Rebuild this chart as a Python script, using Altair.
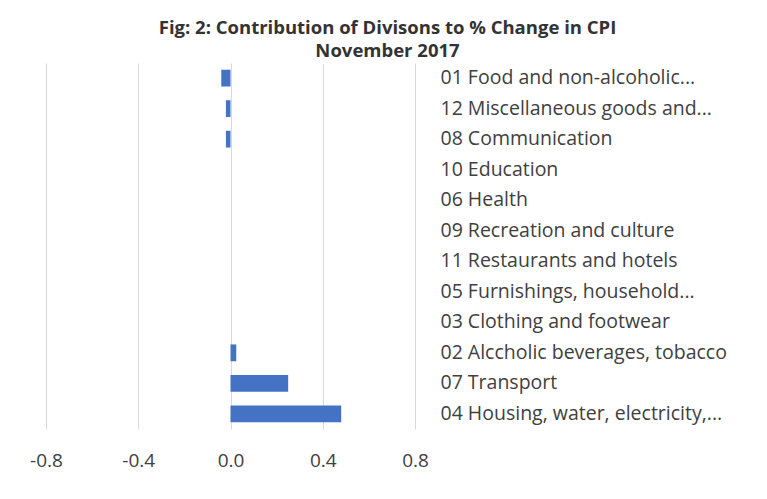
import altair as alt
import pandas as pd

categories = [
    "01 Food and non-alcoholic...",
    "12 Miscellaneous goods and...",
    "08 Communication",
    "10 Education",
    "06 Health",
    "09 Recreation and culture",
    "11 Restaurants and hotels",
    "05 Furnishings, household...",
    "03 Clothing and footwear",
    "02 Alccholic beverages, tobacco",
    "07 Transport",
    "04 Housing, water, electricity,...",
]
values = [-0.04, -0.02, -0.02, 0.0, 0.0, 0.0, 0.0, 0.0, 0.0, 0.025, 0.25, 0.48]
x_ticks = [-0.8, -0.4, 0.0, 0.4, 0.8]

df = pd.DataFrame({"division": categories, "contribution": values})

FONT = "Open Sans"

chart = (
    alt.Chart(df)
    .mark_bar(color="#4472C4")
    .encode(
        x=alt.X(
            "contribution:Q",
            scale=alt.Scale(domain=[-0.8, 0.8], nice=False),
            axis=alt.Axis(
                values=x_ticks,
                labelExpr="datum.value < 0 ? '-' + format(abs(datum.value), '.1f') : format(datum.value, '.1f')",
                title=None,
                domain=False,
                ticks=False,
                labelPadding=22,
                labelFontSize=19,
                labelColor="#404040",
                labelFont=FONT,
                gridColor="#d9d9d9",
                labelFlush=False,
            ),
        ),
        y=alt.Y(
            "division:N",
            sort=categories,
            scale=alt.Scale(paddingInner=0.45, paddingOuter=0.22),
            axis=alt.Axis(
                orient="right",
                title=None,
                domain=False,
                ticks=False,
                grid=False,
                labelPadding=25,
                labelFontSize=19.5,
                labelColor="#404040",
                labelFont=FONT,
                labelLimit=0,
            ),
        ),
    )
    .properties(
        width=369,
        height=366,
        padding={"left": 38, "top": 55, "right": 344, "bottom": 62},
        autosize=alt.AutoSizeParams(type="none"),
        title=alt.TitleParams(
            text=["Fig: 2: Contribution of Divisons to % Change in CPI", "November 2017"],
            anchor="middle",
            frame="group",
            dx=157,
            font=FONT,
            fontSize=18.5,
            fontWeight="bold",
            color="#333333",
            lineHeight=23,
            offset=3,
        ),
    )
    .configure_view(stroke=None)
)

chart.save("out.html", embed_options={"renderer": "svg", "actions": False})
